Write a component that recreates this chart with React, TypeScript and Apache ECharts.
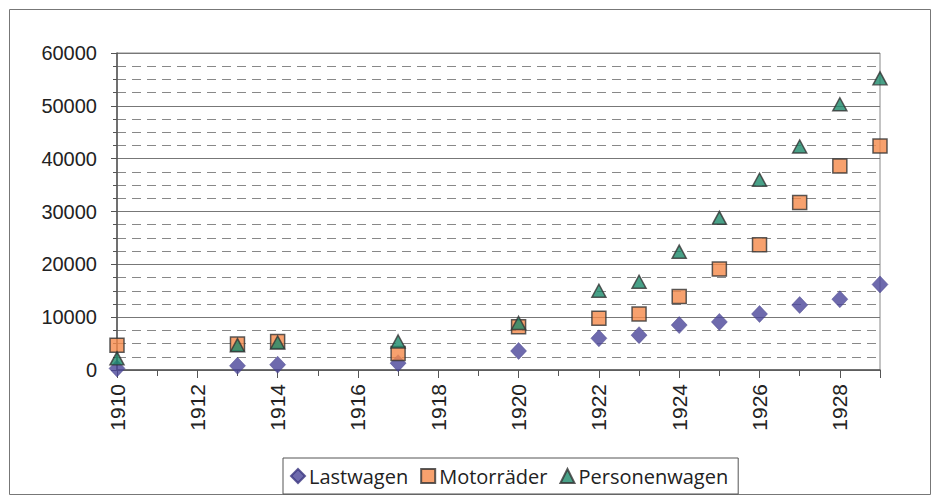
import React, { useEffect, useRef } from "react";
import * as echarts from "echarts";

const years = [1910, 1913, 1914, 1917, 1920, 1922, 1923, 1924, 1925, 1926, 1927, 1928, 1929];
const lastwagen = [300, 800, 1000, 1300, 3600, 6000, 6600, 8500, 9100, 10600, 12300, 13400, 16200];
const motorraeder = [4700, 4900, 5400, 3100, 8200, 9800, 10600, 13900, 19100, 23700, 31700, 38600, 42400];
const personenwagen = [2200, 4700, 5200, 5400, 8900, 15000, 16700, 22400, 28800, 36000, 42300, 50300, 55200];
const seriesNames = ["Lastwagen", "Motorräder", "Personenwagen"];

const pairs = (ys: number[]) => years.map((y, i) => [y, ys[i]]);

export default function App() {
  const ref = useRef<HTMLDivElement>(null);
  useEffect(() => {
    if (!ref.current) return;
    const chart = echarts.init(ref.current, null, { renderer: "svg" });
    const axisFont = { fontFamily: "Liberation Sans", color: "#222" };
    chart.setOption({
      animation: false,
      backgroundColor: "#fff",
      graphic: [
        {
          type: "rect",
          shape: { x: 9.5, y: 9.5, width: 921, height: 485 },
          style: { fill: "none", stroke: "#777", lineWidth: 1 },
          silent: true,
        },
      ],
      grid: {
        left: 117,
        right: 60,
        top: 53,
        bottom: 133,
        show: true,
        borderColor: "#888",
        borderWidth: 1,
        backgroundColor: "transparent",
      },
      legend: {
        data: seriesNames,
        left: 283,
        top: 458,
        padding: [8, 10, 8, 7],
        itemGap: 12,
        itemWidth: 14,
        itemHeight: 14,
        borderColor: "#555",
        borderWidth: 1,
        textStyle: { fontFamily: "Open Sans", fontSize: 20, color: "#222", padding: [0, 0, 0, -1] },
      },
      xAxis: {
        type: "value",
        min: 1910,
        max: 1929,
        interval: 2,
        axisLine: { lineStyle: { color: "#555", width: 1.5 } },
        axisTick: { show: true, length: 8, lineStyle: { color: "#555" } },
        minorTick: { show: true, splitNumber: 2, length: 6, lineStyle: { color: "#555" } },
        splitLine: { show: false },
        axisLabel: {
          ...axisFont,
          fontSize: 21,
          rotate: 90,
          margin: 14,
          showMaxLabel: false,
          formatter: (v: number) => String(v),
        },
      },
      yAxis: {
        type: "value",
        min: 0,
        max: 60000,
        interval: 10000,
        axisLine: { show: true, lineStyle: { color: "#555", width: 1.5 } },
        axisTick: { show: true, length: 6, lineStyle: { color: "#555" } },
        axisLabel: { ...axisFont, fontSize: 20, margin: 20, formatter: (v: number) => String(v) },
        splitLine: { show: true, lineStyle: { color: "#777", width: 1 } },
        minorTick: { show: true, splitNumber: 4, length: 4, lineStyle: { color: "#555" } },
        minorSplitLine: { show: true, lineStyle: { color: "#888", type: [9, 6], width: 1 } },
      },
      series: [
        {
          name: seriesNames[0],
          type: "scatter",
          symbol: "diamond",
          symbolSize: [16, 17],
          itemStyle: { color: "#4a4599", borderColor: "#3b3680", borderWidth: 0.5 },
          data: pairs(lastwagen),
        },
        {
          name: seriesNames[1],
          type: "scatter",
          symbol: "rect",
          symbolSize: 14,
          itemStyle: { color: "#f5894a", borderColor: "#333", borderWidth: 1.5 },
          data: pairs(motorraeder),
        },
        {
          name: seriesNames[2],
          type: "scatter",
          symbol: "triangle",
          symbolSize: [14, 13],
          itemStyle: { color: "#1b8a6a", borderColor: "#333", borderWidth: 1.5 },
          data: pairs(personenwagen),
        },
      ],
    });
    return () => chart.dispose();
  }, []);
  return (
    <div
      ref={ref}
      style={{ position: "fixed", left: 0, top: 0, width: 940, height: 503 }}
    />
  );
}
